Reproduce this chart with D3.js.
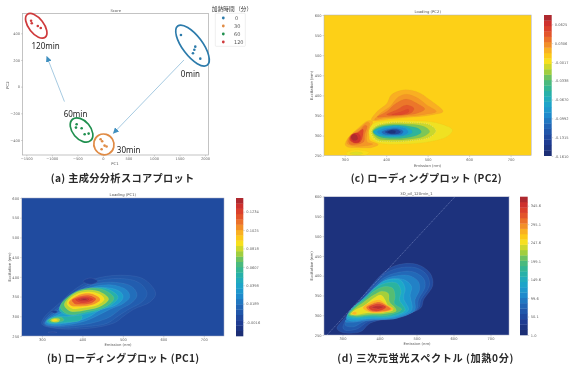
<!DOCTYPE html>
<html><head><meta charset="utf-8">
<script src="https://cdnjs.cloudflare.com/ajax/libs/d3/7.8.5/d3.min.js"></script>
<style>html,body{margin:0;padding:0;background:#fff}svg{display:block;filter:blur(.4px)}</style>
</head><body><svg id="c" width="580" height="375"></svg>
<script>
// ---------- Score plot ----------
const scoreGroups = ["0","30","60","120"];
const scoreColors = ["#2c7bab","#e08b45","#1f8f4e","#cf3a3c"];
const scorePoints = [
  [[1529,387],[1810,300],[1791,277],[1764,250],[1908,210]],
  [[-45,-394],[-14,-409],[33,-442],[72,-449],[-25,-469]],
  [[-514,-282],[-527,-307],[-416,-312],[-357,-357],[-279,-352]],
  [[-1406,494],[-1393,475],[-1275,455],[-1217,440]]
];
const scoreTicksX = [-1500,-1000,-500,0,500,1000,1500,2000];
const scoreTicksY = [-400,-200,0,200,400];
const groupEllipses = [
  {c:[1755,308],rx:24.5,ry:10,rot:53},
  {c:[20,-433],rx:10.5,ry:10,rot:60},
  {c:[-418,-325],rx:14,ry:9,rot:50},
  {c:[-1305,456],rx:14.5,ry:7.5,rot:52}
];
const groupLabels = [["0min",1527,71],["30min",273,-495],["60min",-767,-224],["120min",-1398,280]];
const timeArrows = [[[1588,200],[205,-350]],[[-753,-112],[-1098,226]]];
const legendTitle = "加熱時間（分）";

// ---------- Shared colour ramp ----------
const rampStops  = [0,.10,.20,.30,.38,.46,.54,.60,.67,.70,.74,.80,.88,.94,1];
const rampColors = ["#1b2a6e","#1f3d93","#2260b2","#1f8fcf","#1ea9c8","#2ab3a0","#55bd72","#a5cf3b","#f6e21f","#fdd017","#fbb822","#f0852a","#e04a2b","#d0312e","#9e2530"];

const emissionTicks = [300,400,500,600,700];
const excitationTicks = [250,300,350,400,450,500,550,600];

// ---------- PC2 loading: contour levels and outlines (emission, excitation) ----------
const pc2Domain = [-0.161,0.0785];
const pc2Background = 0.0066;
const pc2BarLabels = ["-0.1610","-0.1315","-0.0992","-0.0670","-0.0338","-0.0017","0.0306","0.0625"];
const pc2Levels = [0.0187,0.0258,0.0354,0.045,0.051, 0.0187,0.0258,0.0354,0.052,0.064,0.0737, 0.0019,-0.0053,
  -0.0017,-0.0101,-0.0245,-0.0484,-0.0724,-0.0892,-0.1083,-0.1323,-0.1514];
const pc2Rings = [
 [[364,339],[378,360],[401,379],[413,402],[445,414],[477,408],[505,389],[537,360],[513,352],[465,346],[409,341],[372,337]],
 [[372,339],[389,358],[409,372],[429,396],[449,403],[477,393],[497,377],[521,360],[489,352],[441,347],[393,343]],
 [[378,346],[401,360],[425,381],[449,391],[473,381],[493,366],[477,356],[441,350],[401,347]],
 [[401,352],[425,364],[449,376],[467,368],[461,357],[433,351]],
 [[413,352],[437,360],[453,366],[455,360],[437,352]],
 [[301,277],[306,291],[332,318],[356,337],[367,335],[359,310],[360,289],[381,278],[364,270],[328,270],[308,271]],
 [[305,281],[310,296],[336,318],[354,333],[360,331],[354,306],[354,285],[368,279],[348,274],[320,274]],
 [[309,285],[314,299],[335,312],[349,326],[354,323],[348,302],[346,285],[328,278],[314,278]],
 [[312,289],[316,302],[332,308],[344,316],[344,302],[338,285],[324,281]],
 [[314,293],[320,304],[332,306],[338,297],[335,285],[322,283]],
 [[315,296],[322,304],[329,300],[331,291],[322,288]],
 [[304,257],[328,264],[359,258],[349,251],[308,250]],
 [[312,256],[328,260],[344,256],[328,252]],
 [[358,310],[368,329],[401,337],[465,337],[521,332],[560,314],[546,297],[505,285],[441,279],[385,281],[363,293]],
 [[364,310],[375,324],[405,332],[465,332],[505,327],[520,312],[505,296],[465,288],[409,285],[376,289]],
 [[367,310],[378,322],[409,329],[461,328],[493,322],[505,310],[489,297],[457,291],[409,289],[380,293]],
 [[368,310],[383,321],[413,326],[453,324],[477,318],[485,309],[473,300],[445,294],[409,293],[383,297]],
 [[370,309],[386,319],[413,324],[445,322],[461,314],[463,308],[453,302],[429,297],[401,297],[380,300]],
 [[378,309],[397,318],[421,321],[445,318],[453,309],[445,302],[417,299],[393,301]],
 [[389,309],[405,316],[429,317],[441,311],[437,304],[413,302],[394,304]],
 [[397,309],[409,314],[429,314],[435,309],[426,304],[409,304]],
 [[403,309],[413,313],[423,311],[421,306],[409,306]]
];

// ---------- PC1 loading ----------
const pc1Domain = [-0.0174,0.1389];
const pc1Background = 0.0045;
const pc1BarLabels = ["-0.0016","0.0189","0.0398","0.0607","0.0818","0.1025","0.1234"];
const pc1Levels = [0.0084,0.0123,0.0186,0.0264,0.0373,0.0514,0.0514,0.0654,0.0654,0.0795,0.0795,0.0889,0.0889,0.1045,0.117,0.1248,0.1311,0.1373,-0.0002,-0.0002,-0.0002];
const pc1Rings = [
 [[300,280],[304,295],[345,335],[385,371],[428,394],[494,404],[552,394],[581,358],[568,337],[527,318],[500,299],[482,285],[428,271],[337,269]],
 [[304,280],[308,293],[347,328],[385,364],[428,387],[490,396],[539,386],[560,358],[548,337],[515,318],[486,299],[461,282],[411,274],[333,271]],
 [[307,280],[312,293],[350,324],[385,358],[428,381],[482,386],[523,375],[535,354],[523,335],[494,318],[469,299],[432,285],[395,278],[333,274]],
 [[308,282],[314,292],[352,318],[385,352],[428,375],[477,379],[510,366],[517,349],[502,333],[469,318],[436,301],[407,288],[374,280],[329,276]],
 [[311,285],[319,293],[354,312],[380,344],[424,369],[473,371],[498,358],[500,345],[482,328],[444,316],[421,301],[395,290],[358,282],[325,280]],
 [[342,318],[372,350],[418,371],[462,369],[488,349],[470,328],[425,310],[365,303]],
 [[312,288],[329,298],[362,299],[399,301],[395,290],[354,284],[325,282]],
 [[345,325],[375,358],[415,372],[455,366],[478,346],[458,325],[415,312],[365,305]],
 [[316,290],[329,296],[350,296],[354,290],[337,285],[321,285]],
 [[355,330],[380,358],[415,367],[448,360],[465,344],[448,327],[411,316],[370,313]],
 [[321,290],[331,295],[344,293],[341,286],[325,286]],
 [[362,333],[382,354],[415,362],[444,355],[454,343],[440,330],[407,322],[374,320]],
 [[325,290],[333,293],[339,290],[329,287]],
 [[366,335],[391,354],[420,358],[440,349],[444,341],[428,330],[395,325],[372,327]],
 [[374,341],[395,351],[418,353],[434,344],[424,334],[395,330],[380,332]],
 [[382,342],[399,349],[416,349],[428,343],[416,336],[395,334]],
 [[388,342],[403,347],[418,344],[413,339],[397,338]],
 [[395,343],[405,345],[413,343],[405,341]],
 [[401,389],[420,397],[438,389],[420,381]],
 [[322,312],[331,315],[339,311],[331,308]],
 [[315,259],[325,261],[337,259],[325,258]]
];

// ---------- 3D fluorescence, 0 min ----------
const eemDomain = [1,369.6];
const eemBackground = 15.7;
const eemBarLabels = ["1.0","50.1","99.6","149.6","199.1","247.6","295.1","345.6"];
const eemLevels = [52.6,67,82,100.5,119,141,170.6,200,222,244,274,274,303,333,355];
const eemRings = [
 [[285,267],[301,288],[343,334],[411,408],[447,427],[501,429],[537,406],[544,376],[519,339],[512,319],[460,299],[375,280],[348,258],[298,257]],
 [[301,269],[312,292],[348,333],[411,402],[449,419],[499,420],[528,402],[535,376],[512,339],[505,317],[456,299],[370,284],[339,265],[307,262]],
 [[307,275],[316,292],[350,330],[409,393],[449,408],[490,410],[519,393],[523,372],[505,339],[501,316],[451,294],[361,285],[330,271]],
 [[307,284],[319,296],[352,328],[411,389],[447,400],[481,400],[505,385],[508,364],[496,339],[495,313],[447,292],[366,287],[325,282]],
 [[310,292],[323,307],[352,328],[411,385],[438,393],[469,389],[487,372],[483,351],[487,313],[442,294],[366,290],[325,285]],
 [[312,294],[325,317],[357,343],[395,376],[420,389],[456,389],[469,368],[465,343],[478,313],[438,296],[370,292],[330,290]],
 [[314,299],[328,319],[361,344],[384,366],[415,381],[447,381],[458,361],[454,339],[469,313],[433,298],[370,296],[332,294]],
 [[316,301],[330,317],[364,343],[384,360],[411,372],[436,368],[442,347],[440,330],[460,315],[429,301],[370,299],[334,296]],
 [[319,302],[332,316],[357,333],[384,351],[406,361],[424,355],[427,334],[442,319],[445,311],[415,304],[370,302],[337,299]],
 [[323,303],[334,313],[361,326],[384,343],[404,351],[415,339],[424,322],[436,313],[411,307],[370,306],[339,301]],
 [[355,319],[375,333],[400,339],[418,328],[438,316],[415,308],[375,307]],
 [[325,305],[332,309],[339,306],[334,301]],
 [[364,320],[382,330],[402,333],[420,324],[431,316],[411,310],[375,310]],
 [[370,320],[388,328],[404,328],[418,321],[404,312],[379,312]],
 [[379,320],[395,324],[411,321],[397,316]]
];
const scatterLine = [[258,250],[604,600]];

const heatPanels = [
 {title:"Loading (PC2)",caption:"(c) ローディングプロット (PC2)",capX:[350.7,501.7],capY:182,
  f:[324,531.3,15,155.7],bar:[544,551.7],tickY:[156,24.3],ylab:"Excitation (nm)",ylabX:313.5,xlabX:427.5,xlabY:166.5,titleY:13,
  dom:pc2Domain,bg:pc2Background,labels:pc2BarLabels,levels:pc2Levels,rings:pc2Rings,dashed:14,stroke:"rgba(120,90,20,.12)"},
 {title:"Loading (PC1)",caption:"(b) ローディングプロット (PC1)",capX:[47,199],capY:362,
  f:[21.7,224,198,336],bar:[236,243.3],tickY:[322,211.7],ylab:"Excitation (nm)",ylabX:11,xlabX:118,xlabY:346,titleY:195.5,
  dom:pc1Domain,bg:pc1Background,labels:pc1BarLabels,levels:pc1Levels,rings:pc1Rings,stroke:"rgba(255,255,255,.18)"},
 {title:"3D_oil_120min_1",caption:"(d) 三次元蛍光スペクトル (加熱0分)",capX:[337.3,513.3],capY:361.5,
  f:[324,509,196.7,335],bar:[520,527.7],tickY:[335,205.7],ylab:"Excitation (nm)",ylabX:313.5,xlabX:417,xlabY:344.5,titleY:194.8,
  dom:eemDomain,bg:eemBackground,labels:eemBarLabels,levels:eemLevels,rings:eemRings,scatter:scatterLine,stroke:"rgba(255,255,255,.18)"}
];

// ---------- Drawing ----------
const svg = d3.select("#c");
const font = "'DejaVu Sans',sans-serif", cjk = "'Noto Sans CJK JP',sans-serif";
const ramp = d3.scaleLinear().domain(rampStops).range(rampColors).interpolate(d3.interpolateRgb);
const defs = svg.append("defs");
defs.append("filter").attr("id","soft").append("feGaussianBlur").attr("stdDeviation",.55);
defs.append("marker").attr("id","head").attr("viewBox","0 0 10 10").attr("refX",9).attr("refY",5)
  .attr("markerUnits","userSpaceOnUse").attr("markerWidth",6).attr("markerHeight",6).attr("orient","auto")
  .append("path").attr("d","M0,0L10,5L0,10Z").attr("fill","#3f8fbf");

function styleAxis(g){
  g.selectAll("path").remove();
  g.selectAll("line").attr("stroke","#999").attr("stroke-width",.4);
  g.selectAll("text").attr("font-family",font).attr("font-size",3.6).attr("fill","#666");
}
function smallText(x,y,s,rot){
  const t=svg.append("text").attr("x",x).attr("y",y).attr("text-anchor","middle")
    .attr("font-family",font).attr("font-size",3.8).attr("fill","#555").text(s);
  if(rot) t.attr("transform",`rotate(-90 ${x} ${y})`);
}
function caption(s,x,y){
  svg.append("text").attr("x",x[0]).attr("y",y).attr("textLength",x[1]-x[0]).attr("lengthAdjust","spacing")
    .attr("font-family",cjk).attr("font-size",10.2).attr("font-weight",700).attr("fill","#2a2a2a").text(s);
}

// Score panel
(function(){
  const F=[22.5,208.5,13.5,155];
  const x=d3.scaleLinear().domain([-1500,2000]).range([26.3,205]);
  const y=d3.scaleLinear().domain([-400,400]).range([140,33.3]);
  svg.append("rect").attr("x",F[0]).attr("y",F[2]).attr("width",F[1]-F[0]).attr("height",F[3]-F[2])
    .attr("fill","#fff").attr("stroke","#b5b5b5").attr("stroke-width",.8);
  svg.append("g").attr("transform",`translate(0,${F[3]})`)
    .call(d3.axisBottom(x).tickValues(scoreTicksX).tickFormat(d3.format("d")).tickSize(1.5).tickPadding(1)).call(styleAxis);
  svg.append("g").attr("transform",`translate(${F[0]},0)`)
    .call(d3.axisLeft(y).tickValues(scoreTicksY).tickFormat(d3.format("d")).tickSize(1.5).tickPadding(1)).call(styleAxis);
  smallText(115.7,11.8,"Score"); smallText(115,164.5,"PC1"); smallText(8.5,85,"PC2",true);
  svg.selectAll(".arrow").data(timeArrows).join("line").attr("class","arrow")
    .attr("x1",d=>x(d[0][0])).attr("y1",d=>y(d[0][1])).attr("x2",d=>x(d[1][0])).attr("y2",d=>y(d[1][1]))
    .attr("stroke","#9cc4de").attr("stroke-width",.9).attr("marker-end","url(#head)");
  svg.selectAll(".ell").data(groupEllipses).join("ellipse").attr("class","ell")
    .attr("rx",d=>d.rx).attr("ry",d=>d.ry)
    .attr("transform",d=>`translate(${x(d.c[0])},${y(d.c[1])}) rotate(${d.rot})`)
    .attr("fill","none").attr("stroke",(d,i)=>scoreColors[i]).attr("stroke-width",1.7);
  scorePoints.forEach((pts,i)=>{
    svg.append("g").selectAll("circle").data(pts).join("circle")
      .attr("cx",d=>x(d[0])).attr("cy",d=>y(d[1])).attr("r",1.3).attr("fill",scoreColors[i]);
  });
  svg.selectAll(".gl").data(groupLabels).join("text").attr("class","gl")
    .attr("x",d=>x(d[1])).attr("y",d=>y(d[2])).attr("font-family","'Noto Sans',sans-serif").attr("font-size",8).attr("fill","#222").text(d=>d[0]);
  // legend
  svg.append("text").attr("x",211.7).attr("y",10.5).attr("font-family",cjk).attr("font-size",5.7).attr("fill","#333")
    .attr("textLength",40.5).attr("lengthAdjust","spacing").text(legendTitle);
  svg.append("rect").attr("x",215.3).attr("y",13.3).attr("width",30).attr("height",33).attr("rx",.8)
    .attr("fill","#fff").attr("stroke","#ddd").attr("stroke-width",.5);
  const ly=d3.scalePoint().domain(scoreGroups).range([18,42]);
  const leg=svg.append("g").selectAll("g").data(scoreGroups).join("g").attr("transform",d=>`translate(0,${ly(d)})`);
  leg.append("circle").attr("cx",223.3).attr("r",1.4).attr("fill",(d,i)=>scoreColors[i]);
  leg.append("text").attr("x",d=>d==="0"?235:234).attr("y",1.8).attr("font-family",font).attr("font-size",5).attr("fill","#555").text(d=>d);
  caption("(a) 主成分分析スコアプロット",[50.7,194.3],181.5);
})();

// Heat panels
heatPanels.forEach((p,pi)=>{
  const [l,r,t,b]=p.f;
  const x=d3.scaleLinear().domain([250,750]).range([l,r]);
  const y=d3.scaleLinear().domain([250,600]).range([b,t]);
  const tOf=d3.scaleLinear().domain(p.dom).range([0,1]);
  const col=v=>ramp(tOf(v));
  defs.append("clipPath").attr("id","cl"+pi).append("rect").attr("x",l).attr("y",t).attr("width",r-l).attr("height",b-t);
  const g=svg.append("g").attr("clip-path",`url(#cl${pi})`);
  g.append("rect").attr("x",l).attr("y",t).attr("width",r-l).attr("height",b-t).attr("fill",col(p.bg));
  const line=d3.line().x(d=>x(d[0])).y(d=>y(d[1])).curve(d3.curveCatmullRomClosed.alpha(.5));
  const inner=g.append("g").attr("filter","url(#soft)");
  inner.selectAll("path").data(p.rings).join("path").attr("d",line)
    .attr("fill",(d,i)=>col(p.levels[i])).attr("stroke",p.stroke).attr("stroke-width",.35);
  if(p.dashed!==undefined) g.append("path").attr("d",line(p.rings[p.dashed])).attr("fill","none")
    .attr("stroke","#fff").attr("stroke-opacity",.55).attr("stroke-width",.5).attr("stroke-dasharray","1 1.3");
  if(p.scatter) g.append("path").attr("d",d3.line().x(d=>x(d[0])).y(d=>y(d[1]))(p.scatter)).attr("fill","none")
    .attr("stroke","#8f9fd0").attr("stroke-width",.5).attr("stroke-dasharray","1.4 .8");
  svg.append("rect").attr("x",l).attr("y",t).attr("width",r-l).attr("height",b-t).attr("fill","none").attr("stroke","#a9adc4").attr("stroke-width",.5);
  svg.append("g").attr("transform",`translate(0,${b})`)
    .call(d3.axisBottom(x).tickValues(emissionTicks).tickFormat(d3.format("d")).tickSize(1.5).tickPadding(1)).call(styleAxis);
  svg.append("g").attr("transform",`translate(${l},0)`)
    .call(d3.axisLeft(y).tickValues(excitationTicks).tickFormat(d3.format("d")).tickSize(1.5).tickPadding(1)).call(styleAxis);
  smallText((l+r)/2,p.titleY,p.title); smallText(p.xlabX,p.xlabY,"Emission (nm)"); smallText(p.ylabX,(t+b)/2,p.ylab,true);
  // colour bar
  const bands=d3.range(26);
  const by=d3.scaleBand().domain(bands).range([b,t]);
  svg.append("g").selectAll("rect").data(bands).join("rect")
    .attr("x",p.bar[0]).attr("width",p.bar[1]-p.bar[0]).attr("y",d=>by(d)).attr("height",by.bandwidth()+.3)
    .attr("fill",d=>ramp((d+.5)/26));
  const ly=d3.scalePoint().domain(p.labels).range(p.tickY);
  svg.append("g").attr("transform",`translate(${p.bar[1]},0)`)
    .call(d3.axisRight(ly).tickSize(1.5).tickPadding(1.5)).call(styleAxis);
  caption(p.caption,p.capX,p.capY);
});
</script></body></html>
